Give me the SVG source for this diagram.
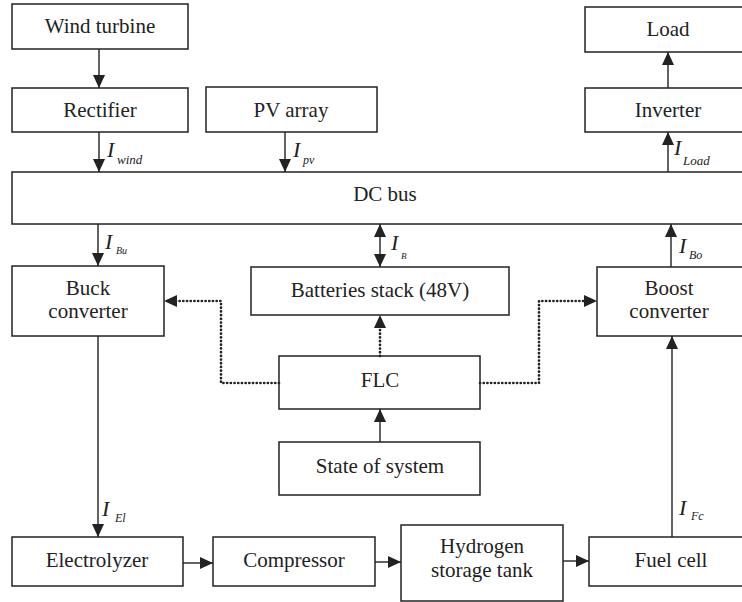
<svg xmlns="http://www.w3.org/2000/svg" width="742" height="602" viewBox="0 0 742 602" font-family="'Liberation Serif', 'DejaVu Serif', serif">
<style>
.box{fill:#fff;stroke:#222;stroke-width:1.5}
.t{font-family:'Liberation Serif', serif;font-size:21px;fill:#222;text-anchor:middle}
.ln{fill:none;stroke:#222;stroke-width:1.4}
.dot{fill:none;stroke:#222;stroke-width:2.7;stroke-linecap:round;stroke-dasharray:0.1 3.6}
.I{font-family:'Liberation Serif', serif;font-style:italic;font-size:22px;fill:#222}
.s{font-family:'Liberation Serif', serif;font-style:italic;fill:#222}
</style>
<defs>
<marker id="ah" markerUnits="userSpaceOnUse" markerWidth="13" markerHeight="12" refX="13" refY="6" orient="auto-start-reverse">
<path d="M0,0 L13,6 L0,12 z" fill="#222"/>
</marker>
</defs>
<rect width="742" height="602" fill="#fff"/>
<g id="wind"><rect class="box" x="12" y="4" width="176" height="45"/><text class="t" x="100" y="33">Wind turbine</text></g>
<g id="rectifier"><rect class="box" x="12" y="88" width="176" height="44"/><text class="t" x="100" y="117">Rectifier</text></g>
<g id="pv"><rect class="box" x="206" y="87" width="171" height="45"/><text class="t" x="291" y="117">PV array</text></g>
<g id="load"><rect class="box" x="585" y="7" width="170" height="45"/><text class="t" x="668" y="36">Load</text></g>
<g id="inverter"><rect class="box" x="585" y="88" width="170" height="44"/><text class="t" x="668" y="117">Inverter</text></g>
<g id="dcbus"><rect class="box" x="12" y="172" width="745" height="52"/><text class="t" x="385" y="201">DC bus</text></g>
<g id="buck"><rect class="box" x="12" y="266" width="152" height="70"/><text class="t" x="88" y="295">Buck</text><text class="t" x="88" y="318">converter</text></g>
<g id="batteries"><rect class="box" x="251" y="267" width="258" height="48"/><text class="t" x="380" y="297">Batteries stack (48V)</text></g>
<g id="boost"><rect class="box" x="597" y="267" width="160" height="69"/><text class="t" x="669" y="295">Boost</text><text class="t" x="669" y="318">converter</text></g>
<g id="flc"><rect class="box" x="279" y="356" width="201" height="53"/><text class="t" x="380" y="387">FLC</text></g>
<g id="state"><rect class="box" x="279" y="442" width="201" height="53"/><text class="t" x="380" y="473">State of system</text></g>
<g id="electrolyzer"><rect class="box" x="12" y="537" width="171" height="49"/><text class="t" x="97" y="567">Electrolyzer</text></g>
<g id="compressor"><rect class="box" x="213" y="537" width="162" height="49"/><text class="t" x="294" y="567">Compressor</text></g>
<g id="h2tank"><rect class="box" x="401" y="525" width="162" height="76"/><text class="t" x="482" y="553">Hydrogen</text><text class="t" x="482" y="577">storage tank</text></g>
<g id="fuelcell"><rect class="box" x="589" y="537" width="170" height="49"/><text class="t" x="671" y="567">Fuel cell</text></g>
<g id="connectors">
<path class="ln" d="M99,49 V88" marker-end="url(#ah)"/>
<path class="ln" d="M99,132 V172" marker-end="url(#ah)"/>
<path class="ln" d="M285,132 V172" marker-end="url(#ah)"/>
<path class="ln" d="M668,172 V132" marker-end="url(#ah)"/>
<path class="ln" d="M668,88 V52" marker-end="url(#ah)"/>
<path class="ln" d="M98,224 V266" marker-end="url(#ah)"/>
<path class="ln" d="M380,224 V267" marker-start="url(#ah)" marker-end="url(#ah)"/>
<path class="ln" d="M671,267 V224" marker-end="url(#ah)"/>
<path class="ln" d="M98,336 V537" marker-end="url(#ah)"/>
<path class="ln" d="M672,537 V336" marker-end="url(#ah)"/>
<path class="ln" d="M380,442 V409" marker-end="url(#ah)"/>
<path class="ln" d="M183,563 H213" marker-end="url(#ah)"/>
<path class="ln" d="M375,562 H401" marker-end="url(#ah)"/>
<path class="ln" d="M563,561 H589" marker-end="url(#ah)"/>
<path class="dot" d="M279,383 H221 V301 H176"/>
<path d="M177,295 L164,301 L177,307 z" fill="#222"/>
<path class="dot" d="M380,356 V327"/>
<path d="M374,328 L380,315 L386,328 z" fill="#222"/>
<path class="dot" d="M480,383 H539 V301 H585"/>
<path d="M584,295 L597,301 L584,307 z" fill="#222"/>
</g>
<g id="labels">
<text class="I" x="107" y="157">I</text><text class="s" x="117" y="164" font-size="13">wind</text>
<text class="I" x="293" y="157">I</text><text class="s" x="303" y="164" font-size="12">pv</text>
<text class="I" x="674" y="155">I</text><text class="s" x="683" y="165" font-size="13">Load</text>
<text class="I" x="105" y="249">I</text><text class="s" x="116" y="254" font-size="10">Bu</text>
<text class="I" x="391" y="250">I</text><text class="s" x="401" y="259" font-size="9">B</text>
<text class="I" x="679" y="253">I</text><text class="s" x="689" y="259" font-size="12">Bo</text>
<text class="I" x="102" y="516">I</text><text class="s" x="115" y="522" font-size="12">El</text>
<text class="I" x="679" y="515">I</text><text class="s" x="691" y="520" font-size="12">Fc</text>
</g>
</svg>
